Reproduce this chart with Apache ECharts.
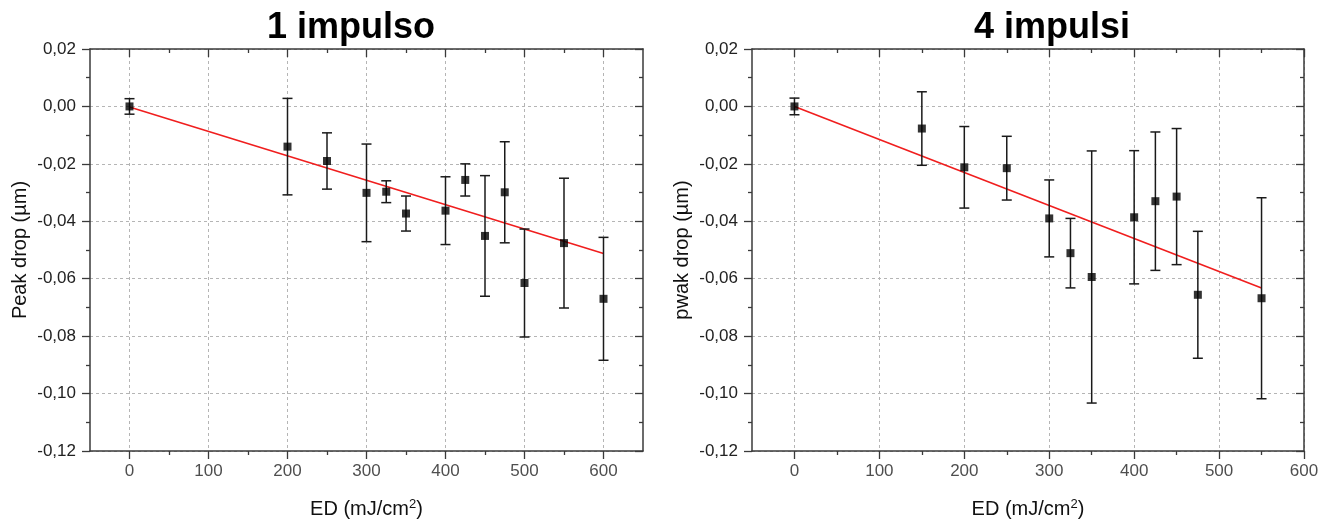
<!DOCTYPE html>
<html><head><meta charset="utf-8">
<script src="https://cdn.jsdelivr.net/npm/echarts@6/dist/echarts.min.js"></script>
<style>html,body{margin:0;padding:0;background:#fff}#c{width:1327px;height:524px}</style>
</head><body><div id="c"></div>
<script>
// ---- Data: panel 1 (1 impulso) ----
const titles = ['1 impulso', '4 impulsi'];
const yNames = ['Peak drop (µm)', 'pwak drop (µm)'];
const ed1 = [0, 200, 250, 300, 325, 350, 400, 425, 450, 475, 500, 550, 600];
const drop1 = [0.0000, -0.0140, -0.0190, -0.0301, -0.0297, -0.0373, -0.0363, -0.0256, -0.0451, -0.0299, -0.0615, -0.0476, -0.0670];
const err1 = [0.0027, 0.0168, 0.0098, 0.0170, 0.0038, 0.0061, 0.0118, 0.0056, 0.0210, 0.0176, 0.0188, 0.0226, 0.0214];
const fitX1 = [0, 600];
const fitY1 = [-0.0002, -0.0512];
// ---- Data: panel 2 (4 impulsi) ----
const ed2 = [0, 150, 200, 250, 300, 325, 350, 400, 425, 450, 475, 550];
const drop2 = [0.0000, -0.0077, -0.0212, -0.0215, -0.0390, -0.0511, -0.0594, -0.0386, -0.0330, -0.0314, -0.0656, -0.0668];
const err2 = [0.0029, 0.0128, 0.0142, 0.0111, 0.0134, 0.0121, 0.0439, 0.0232, 0.0241, 0.0237, 0.0221, 0.0350];
const fitX2 = [0, 550];
const fitY2 = [0.0000, -0.0632];
// ---- Axis ranges and ticks ----
const xRanges = [[-50, 650], [-50, 600]];
const xMajorTicks = [[0, 100, 200, 300, 400, 500, 600], [0, 100, 200, 300, 400, 500, 600]];
const xMinorTicks = [[50, 150, 250, 350, 450, 550], [50, 150, 250, 350, 450, 550]];
const yRange = [-0.12, 0.02];
const yStep = 0.02;

const FONT = 'Liberation Sans, Arial, sans-serif';
const axisColor = '#3a3a3a';
const chart = echarts.init(document.getElementById('c'));

const grids = [
  {left: 90, right: 684, top: 49, bottom: 70},
  {left: 752, right: 23, top: 49, bottom: 70}
];
const titleCenters = [346, 1047];

function yFmt(v) { return Math.abs(v) < 1e-9 ? '0,00' : v.toFixed(2).replace('.', ','); }

const tickStyle = {color: axisColor, width: 1.3};
const xAxes = [], yAxes = [], series = [], titleOpts = [];
[0, 1].forEach(function (g) {
  const base = {
    gridIndex: g, type: 'value', min: xRanges[g][0], max: xRanges[g][1], interval: 50
  };
  const majors = xMajorTicks[g];
  // bottom major (tick labels drawn by a label-only series at the axis values)
  xAxes.push(Object.assign({}, base, {
    position: 'bottom',
    name: 'ED (mJ/cm{sup|2})', nameLocation: 'middle', nameGap: 47,
    nameTextStyle: {fontFamily: FONT, fontSize: 20, color: '#111',
      rich: {sup: {fontFamily: FONT, fontSize: 13, color: '#111', verticalAlign: 'top', padding: [0, 0, 9, 0]}}},
    axisLine: {show: true, onZero: false, lineStyle: {color: axisColor, width: 1.5}},
    axisTick: {show: true, inside: false, length: 8, customValues: majors, lineStyle: tickStyle},
    axisLabel: {show: false},
    splitLine: {show: true, lineStyle: {color: '#b5b5b5', type: [3, 3], width: 1}}
  }));
  // bottom minor
  xAxes.push(Object.assign({}, base, {
    position: 'bottom',
    axisLine: {show: false, onZero: false},
    axisTick: {show: true, inside: false, length: 4, customValues: xMinorTicks[g], lineStyle: tickStyle},
    axisLabel: {show: false}, splitLine: {show: false}
  }));
  // top major
  xAxes.push(Object.assign({}, base, {
    position: 'top',
    axisLine: {show: true, onZero: false, lineStyle: {color: axisColor, width: 1.5}},
    axisTick: {show: true, inside: true, length: 8, customValues: majors, lineStyle: tickStyle},
    axisLabel: {show: false}, splitLine: {show: false}
  }));
  // top minor
  xAxes.push(Object.assign({}, base, {
    position: 'top',
    axisLine: {show: false, onZero: false},
    axisTick: {show: true, inside: true, length: 4, customValues: xMinorTicks[g], lineStyle: tickStyle},
    axisLabel: {show: false}, splitLine: {show: false}
  }));

  const yCommon = {
    gridIndex: g, type: 'value', min: yRange[0], max: yRange[1], interval: yStep,
    axisLine: {show: true, onZero: false, lineStyle: {color: axisColor, width: 1.5}}
  };
  yAxes.push(Object.assign({}, yCommon, {
    position: 'left',
    name: yNames[g], nameLocation: 'middle', nameGap: 60, nameRotate: 90,
    nameTextStyle: {fontFamily: FONT, fontSize: 20, color: '#111'},
    axisTick: {show: true, inside: false, length: 8, lineStyle: tickStyle},
    minorTick: {show: true, splitNumber: 2, length: 4, lineStyle: tickStyle},
    axisLabel: {fontFamily: FONT, fontSize: 17, color: '#222', margin: 14, formatter: yFmt},
    splitLine: {show: true, lineStyle: {color: '#b5b5b5', type: [3, 3], width: 1}}
  }));
  yAxes.push(Object.assign({}, yCommon, {
    position: 'right',
    axisTick: {show: true, inside: true, length: 8, lineStyle: tickStyle},
    minorTick: {show: true, splitNumber: 2, length: 4, lineStyle: tickStyle},
    axisLabel: {show: false}, splitLine: {show: false}
  }));
  titleOpts.push({
    text: titles[g], left: titleCenters[g], top: 5, textAlign: 'center',
    textStyle: {fontFamily: FONT, fontSize: 36, fontWeight: 'bold', color: '#000'}
  });
});

function errSeries(g, xs, ys, es) {
  const data = xs.map(function (x, i) { return [x, ys[i] - es[i], ys[i] + es[i]]; });
  return {
    type: 'custom', xAxisIndex: 4 * g, yAxisIndex: 2 * g, z: 3,
    data: data,
    renderItem: function (params, api) {
      const lo = api.coord([api.value(0), api.value(1)]);
      const hi = api.coord([api.value(0), api.value(2)]);
      const w = 5;
      const st = {stroke: '#1a1a1a', lineWidth: 1.5};
      return {type: 'group', children: [
        {type: 'line', shape: {x1: lo[0], y1: lo[1], x2: hi[0], y2: hi[1]}, style: st},
        {type: 'line', shape: {x1: lo[0] - w, y1: lo[1], x2: lo[0] + w, y2: lo[1]}, style: st},
        {type: 'line', shape: {x1: hi[0] - w, y1: hi[1], x2: hi[0] + w, y2: hi[1]}, style: st}
      ]};
    }
  };
}
function fitSeries(g, fx, fy) {
  return {type: 'line', xAxisIndex: 4 * g, yAxisIndex: 2 * g, z: 2, symbol: 'none', silent: true,
    data: fx.map(function (x, i) { return [x, fy[i]]; }),
    lineStyle: {color: '#f01e1e', width: 1.6}};
}
function ptSeries(g, xs, ys) {
  return {type: 'scatter', xAxisIndex: 4 * g, yAxisIndex: 2 * g, z: 4, symbol: 'rect', symbolSize: 8,
    itemStyle: {color: '#000'}, data: xs.map(function (x, i) { return [x, ys[i]]; })};
}
// x tick labels, placed at the axis values on the bottom edge
function xLabelSeries(g) {
  return {type: 'scatter', xAxisIndex: 4 * g, yAxisIndex: 2 * g, z: 5, silent: true, clip: false,
    symbol: 'circle', symbolSize: 1, itemStyle: {color: 'rgba(0,0,0,0)'},
    data: xMajorTicks[g].map(function (v) { return [v, yRange[0]]; }),
    label: {show: true, position: 'bottom', distance: 11, fontFamily: FONT, fontSize: 17, color: '#222',
      formatter: function (p) { return String(p.value[0]); }}};
}

series.push(fitSeries(0, fitX1, fitY1), errSeries(0, ed1, drop1, err1), ptSeries(0, ed1, drop1), xLabelSeries(0));
series.push(fitSeries(1, fitX2, fitY2), errSeries(1, ed2, drop2, err2), ptSeries(1, ed2, drop2), xLabelSeries(1));

chart.setOption({
  animation: false,
  backgroundColor: '#fff',
  title: titleOpts,
  grid: grids,
  xAxis: xAxes,
  yAxis: yAxes,
  series: series
});
</script></body></html>
